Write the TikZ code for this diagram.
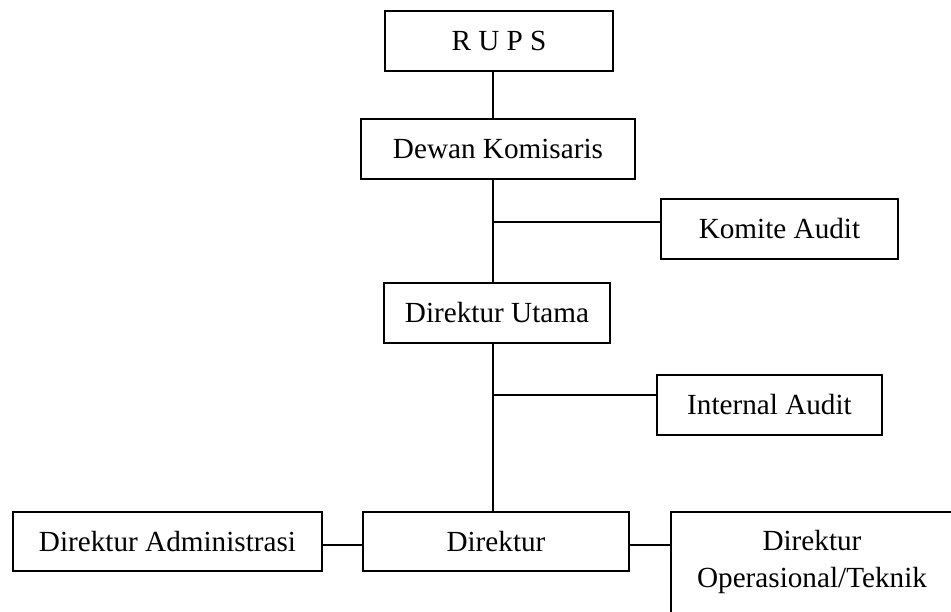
\documentclass[tikz,border=0pt]{standalone}
\usepackage{fontspec}
\setmainfont{Liberation Serif}
\def\px{0.411pt}

\begin{document}
\begin{tikzpicture}[x=\px, y=-\px, line width=0.8pt,
  box/.style={draw, inner sep=0pt, minimum height=60*\px,
    font=\fontsize{12}{15}\selectfont},
]
\useasboundingbox (0,0) rectangle (951,612);
\clip (0,0) rectangle (951,612);

\node[box, minimum width=228*\px] (rups) at (499,41) {R U P S};
\node[box, minimum width=274*\px] (dekom) at (498,149) {Dewan Komisaris};
\node[box, minimum width=237*\px] (komite) at (779.5,229) {Komite Audit};
\node[box, minimum width=226*\px] (dirut) at (497,313) {Direktur Utama};
\node[box, minimum width=225*\px] (intaudit) at (769.5,405) {Internal Audit};
\node[box, minimum width=266*\px, minimum height=59*\px] (direktur) at (496,541.5) {Direktur};
\node[box, minimum width=309*\px, minimum height=59*\px] (diradm) at (167.5,541.5) {Direktur Administrasi};
% box runs off the page
\node[font=\fontsize{12}{15}\selectfont, align=center] (dirops) at (812,562) {Direktur\\Operasional/Teknik};
\coordinate (opscorner) at (671,512);
\draw (opscorner -| 960,0) -- (opscorner) -- (opscorner |- 0,620);

\coordinate (trunk) at (493,0);
\draw (rups.south -| trunk) -- (dekom.north -| trunk);
\draw (dekom.south -| trunk) -- (dirut.north -| trunk);
\draw (dirut.south -| trunk) -- (direktur.north -| trunk);
\coordinate (kbr) at (493,222);
\draw (kbr) -- (kbr -| komite.west);
\coordinate (ibr) at (493,395);
\draw (ibr) -- (ibr -| intaudit.west);
\coordinate (abr) at (0,545);
\draw (abr -| direktur.west) -- (abr -| diradm.east);
\draw (abr -| direktur.east) -- (abr -| opscorner);
\end{tikzpicture}
\end{document}
